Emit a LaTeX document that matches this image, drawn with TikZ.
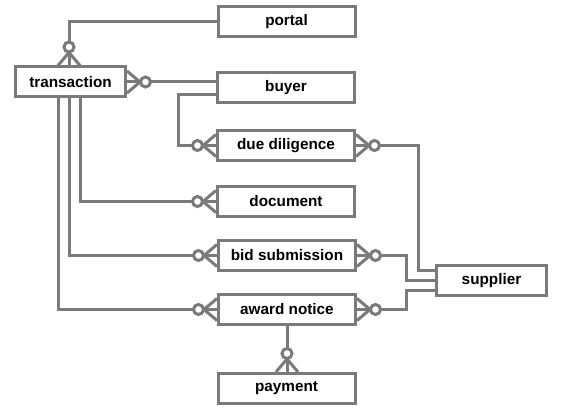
\documentclass[tikz,border=0pt]{standalone}
\usepackage{fontspec}
\setmainfont{Liberation Sans}
\usepackage{tikz}
\usetikzlibrary{positioning}
\usetikzlibrary{calc}

\definecolor{ergray}{HTML}{7A7A7A}

% zero-or-many end at a box: #1 anchor, #2 direction the foot points to
\newcommand{\zeromany}[2]{%
	\begin{scope}[shift={(#1)}, rotate=#2]
	\draw [erline] (0pt,11pt) -- (13pt,0pt) -- (0pt,-11pt);
	\draw [erline, fill=white] (18.5pt,0pt) circle (5pt);
	\end{scope}}

\begin{document}
\begin{tikzpicture}[x=1pt, y=-1pt,
		erline/.style={draw=ergray, line width=3pt},
		entity/.style={draw=ergray, line width=3pt, fill=white, minimum width=137pt, minimum height=30pt, inner sep=0pt, font=\bfseries\fontsize{15.3}{18}\selectfont},
		shortentity/.style={entity, minimum width=110pt}]
		\useasboundingbox (0,0) rectangle (566,412);
		
		\node at (70.5,82) [shortentity] (trans) {transaction};
		\node at (286.5,22) [entity] (portal) {portal};
		\node at (286,88) [entity] (buyer) {buyer};
		\node at (286,145.5) [entity] (dd) {due diligence};
		\node at (286,201.5) [entity] (doc) {document};
		\node at (287,255.5) [entity] (bid) {bid submission};
		\node at (287,309.5) [entity] (award) {award notice};
		\node at (286.5,388.5) [entity] (pay) {payment};
		\node at (491.5,280.5) [shortentity] (supp) {supplier};
		
		\draw [erline] (portal.west) -| ([xshift=-1.5pt]trans.north);
		\draw [erline] (trans.east) -- (buyer.west |- trans.east);
		\draw [erline] ([yshift=-7pt]buyer.west) -- ++(-38,0) |- (dd.west);
		\draw [erline] (dd.east) -- ++(62,0) |- ([yshift=10pt]supp.west);
		\draw [erline] ([xshift=9.5pt]trans.south) |- (doc.west);
		\draw [erline] ([xshift=-1.5pt]trans.south) |- (bid.west);
		\draw [erline] ([xshift=-12.5pt]trans.south) |- (award.west);
		\draw [erline] (bid.east) -- ++(49,0) |- (supp.west);
		\draw [erline] (award.east) -- ++(49,0) |- ([yshift=-10pt]supp.west);
		\draw [erline] (award.south) -- (award.south |- pay.north);
		
		\zeromany{[xshift=-1.5pt]trans.north}{90}
		\zeromany{trans.east}{0}
		\zeromany{dd.west}{180}
		\zeromany{dd.east}{0}
		\zeromany{doc.west}{180}
		\zeromany{bid.west}{180}
		\zeromany{bid.east}{0}
		\zeromany{award.west}{180}
		\zeromany{award.east}{0}
		\zeromany{award.south |- pay.north}{90}
		
		\end{tikzpicture}
\end{document}
